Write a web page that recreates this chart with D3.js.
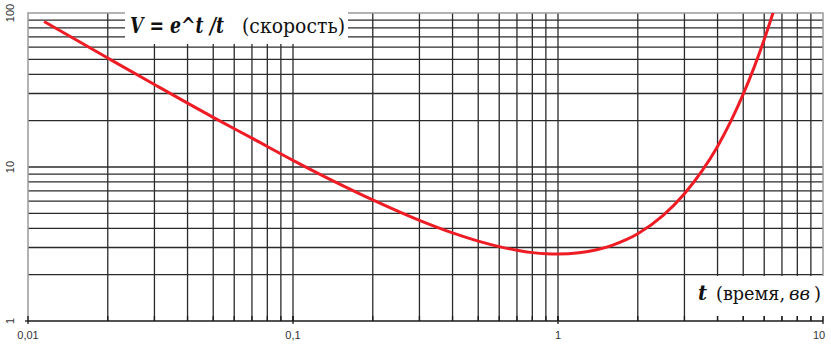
<!DOCTYPE html>
<html><head><meta charset="utf-8">
<script src="https://cdn.jsdelivr.net/npm/d3@7"></script>
<style>body{margin:0;background:#fff}svg{display:block}
.sans{font-family:"Liberation Sans",Arial,sans-serif}</style>
</head><body>
<svg id="c" width="831" height="347"></svg>
<script>
// data
const tValues = [0.0115,0.02,0.03,0.05,0.07,0.1,0.15,0.2,0.3,0.4,0.5,0.6,0.7,0.8,0.9,1,1.2,1.4,1.6,1.8,2,2.5,3,3.5,4,4.5,5,5.5,6,6.5];
const vValues = [88,51,34.3,21.0,15.4,11.05,7.74,6.11,4.50,3.73,3.30,3.04,2.88,2.78,2.73,2.72,2.77,2.90,3.10,3.36,3.69,4.87,6.70,9.46,13.6,20.0,29.7,44.5,67.2,102];
const xTickValues = [0.01,0.1,1,10];
const xTickLabels = ["0,01","0,1","1","10"];
const yTickValues = [1,10,100];
const yTickLabels = ["1","10","100"];
const xGrid = [0.02,0.03,0.04,0.05,0.06,0.07,0.08,0.09,0.1,0.2,0.3,0.4,0.5,0.6,0.7,0.8,0.9,1,2,3,4,5,6,7,8,9];
const yGrid = [2,3,4,5,6,7,8,9,10,20,30,40,50,60,70,80,90];

const svg = d3.select("#c");
const L=28,R=823,T=13,B=321;
const x = d3.scaleLog().domain([0.01,10]).range([L,R]);
const y = d3.scaleLog().domain([1,100]).range([B,T]);

const grid = svg.append("g").attr("stroke","#2b2b2b").attr("stroke-width",1.3);
grid.selectAll("line.v").data(xGrid).join("line").attr("class","v")
  .attr("x1",d=>x(d)).attr("x2",d=>x(d)).attr("y1",T).attr("y2",B);
grid.selectAll("line.h").data(yGrid).join("line").attr("class","h")
  .attr("x1",L).attr("x2",R).attr("y1",d=>y(d)).attr("y2",d=>y(d));

// border (gray) left/top/right
svg.append("path").attr("d",`M${L},${B}V${T}H${R}V${B}`).attr("fill","none")
  .attr("stroke","#9a9a9a").attr("stroke-width",1.5);

// curve
const line = d3.line().x((d,i)=>x(tValues[i])).y(d=>y(d)).curve(d3.curveMonotoneX);
svg.append("defs").append("clipPath").attr("id","clip").append("rect")
  .attr("x",L).attr("y",T).attr("width",R-L).attr("height",B-T);
svg.append("path").datum(vValues).attr("d",line).attr("fill","none")
  .attr("stroke","#ee1c25").attr("stroke-width",3).attr("clip-path","url(#clip)");

// label boxes
function seg(txt, x0, x1, yb, size, bold, italic){
  svg.append("text").attr("x",x0).attr("y",yb)
    .attr("font-family","DejaVu Serif").attr("font-size",size).attr("fill","#111")
    .attr("font-weight",bold?"bold":"normal").attr("font-style",italic?"italic":"normal")
    .attr("textLength",x1-x0).attr("lengthAdjust","spacingAndGlyphs")
    .attr("xml:space","preserve").text(txt);
}
svg.append("rect").attr("x",125).attr("y",11).attr("width",223).attr("height",33).attr("fill","#fff");
seg("V = e^t /t",130,224,33,22,true,true);
seg("(скорость)",242,345,33,20,false,false);

svg.append("rect").attr("x",695).attr("y",276).attr("width",131).attr("height",40).attr("fill","#fff");
seg("t",698,707,300,21,true,true);
seg("(время,",716,785,300,18,false,false);
seg("вв",789,810,300,18,false,true);
seg(")",814,821,300,19,false,false);

// bottom axis
const ax = svg.append("g").attr("stroke","#1a1a1a").attr("stroke-width",1.3);
ax.append("line").attr("x1",L).attr("x2",R).attr("y1",B).attr("y2",B);
ax.selectAll("line.mt").data(xGrid).join("line").attr("class","mt")
  .attr("x1",d=>x(d)).attr("x2",d=>x(d)).attr("y1",B-5).attr("y2",B);
ax.selectAll("line.Mt").data(xTickValues).join("line").attr("class","Mt")
  .attr("x1",d=>x(d)).attr("x2",d=>x(d)).attr("y1",B-5).attr("y2",B+3);
ax.append("line").attr("x1",L-3).attr("x2",L).attr("y1",B).attr("y2",B);

const lab = svg.append("g").attr("class","sans").attr("font-size",11).attr("fill","#333");
lab.selectAll("text.x").data(xTickValues).join("text").attr("class","x")
  .attr("x",(d,i)=>x(d) - (i===xTickValues.length-1?4:0)).attr("y",339).attr("text-anchor","middle")
  .text((d,i)=>xTickLabels[i]);
lab.selectAll("text.y").data(yTickValues).join("text").attr("class","y")
  .attr("transform",d=>`translate(14,${y(d)}) rotate(-90)`).attr("text-anchor","middle")
  .text((d,i)=>yTickLabels[i]);
</script>
</body></html>
